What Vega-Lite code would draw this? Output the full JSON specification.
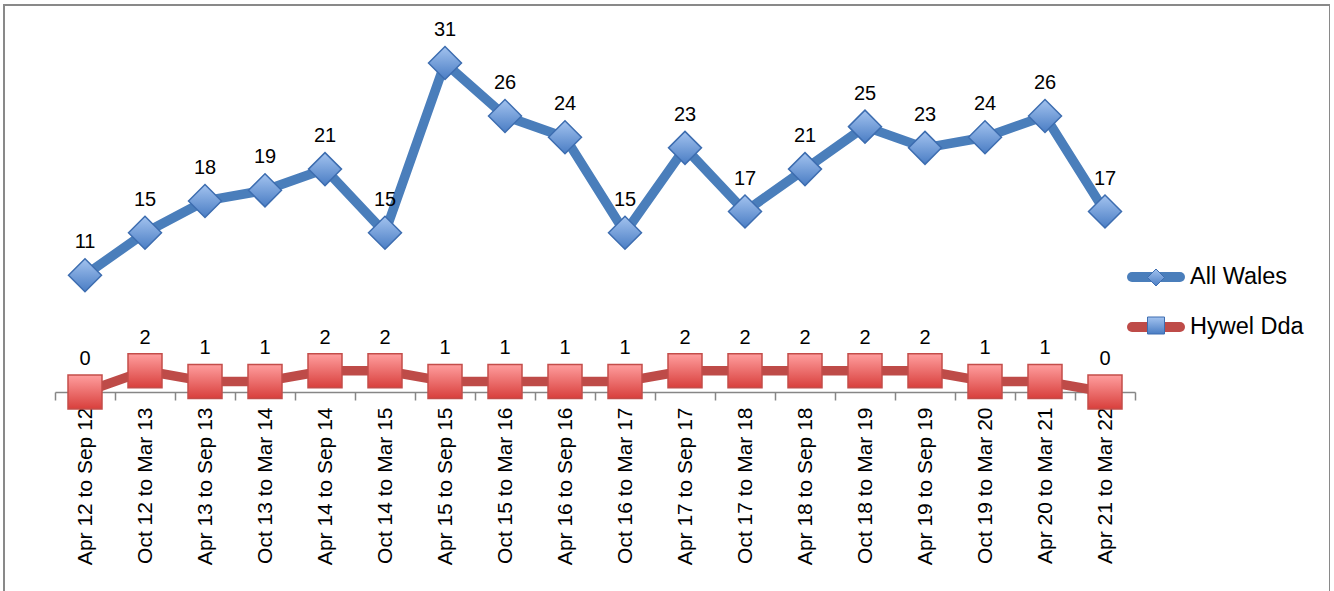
{
  "$schema": "https://vega.github.io/schema/vega-lite/v6.json",
  "width": 1326,
  "height": 600,
  "autosize": {"type": "none"},
  "padding": {"left": 4, "top": 5, "right": 0, "bottom": 0},
  "background": "white",
  "config": {
    "view": {"stroke": "#898989", "strokeWidth": 2},
    "font": "Liberation Sans"
  },
  "data": {
    "values": [
      {"period": "Apr 12 to Sep 12", "series": "All Wales", "value": 11},
      {"period": "Oct 12 to Mar 13", "series": "All Wales", "value": 15},
      {"period": "Apr 13 to Sep 13", "series": "All Wales", "value": 18},
      {"period": "Oct 13 to Mar 14", "series": "All Wales", "value": 19},
      {"period": "Apr 14 to Sep 14", "series": "All Wales", "value": 21},
      {"period": "Oct 14 to Mar 15", "series": "All Wales", "value": 15},
      {"period": "Apr 15 to Sep 15", "series": "All Wales", "value": 31},
      {"period": "Oct 15 to Mar 16", "series": "All Wales", "value": 26},
      {"period": "Apr 16 to Sep 16", "series": "All Wales", "value": 24},
      {"period": "Oct 16 to Mar 17", "series": "All Wales", "value": 15},
      {"period": "Apr 17 to Sep 17", "series": "All Wales", "value": 23},
      {"period": "Oct 17 to Mar 18", "series": "All Wales", "value": 17},
      {"period": "Apr 18 to Sep 18", "series": "All Wales", "value": 21},
      {"period": "Oct 18 to Mar 19", "series": "All Wales", "value": 25},
      {"period": "Apr 19 to Sep 19", "series": "All Wales", "value": 23},
      {"period": "Oct 19 to Mar 20", "series": "All Wales", "value": 24},
      {"period": "Apr 20 to Mar 21", "series": "All Wales", "value": 26},
      {"period": "Apr 21 to Mar 22", "series": "All Wales", "value": 17},
      {"period": "Apr 12 to Sep 12", "series": "Hywel Dda", "value": 0},
      {"period": "Oct 12 to Mar 13", "series": "Hywel Dda", "value": 2},
      {"period": "Apr 13 to Sep 13", "series": "Hywel Dda", "value": 1},
      {"period": "Oct 13 to Mar 14", "series": "Hywel Dda", "value": 1},
      {"period": "Apr 14 to Sep 14", "series": "Hywel Dda", "value": 2},
      {"period": "Oct 14 to Mar 15", "series": "Hywel Dda", "value": 2},
      {"period": "Apr 15 to Sep 15", "series": "Hywel Dda", "value": 1},
      {"period": "Oct 15 to Mar 16", "series": "Hywel Dda", "value": 1},
      {"period": "Apr 16 to Sep 16", "series": "Hywel Dda", "value": 1},
      {"period": "Oct 16 to Mar 17", "series": "Hywel Dda", "value": 1},
      {"period": "Apr 17 to Sep 17", "series": "Hywel Dda", "value": 2},
      {"period": "Oct 17 to Mar 18", "series": "Hywel Dda", "value": 2},
      {"period": "Apr 18 to Sep 18", "series": "Hywel Dda", "value": 2},
      {"period": "Oct 18 to Mar 19", "series": "Hywel Dda", "value": 2},
      {"period": "Apr 19 to Sep 19", "series": "Hywel Dda", "value": 2},
      {"period": "Oct 19 to Mar 20", "series": "Hywel Dda", "value": 1},
      {"period": "Apr 20 to Mar 21", "series": "Hywel Dda", "value": 1},
      {"period": "Apr 21 to Mar 22", "series": "Hywel Dda", "value": 0}
    ]
  },
  "encoding": {
    "x": {
      "field": "period",
      "type": "nominal",
      "sort": null,
      "title": null,
      "scale": {"type": "band", "range": [51, 1131], "paddingInner": 0, "paddingOuter": 0},
      "axis": {
        "offset": -213,
        "tickBand": "extent",
        "labelAngle": 270,
        "labelFontSize": 21,
        "labelFont": "Liberation Sans",
        "labelColor": "#000000",
        "labelPadding": 7,
        "tickSize": 8,
        "tickColor": "#868686",
        "tickWidth": 1.5,
        "domainColor": "#868686",
        "domainWidth": 1.5,
        "grid": false
      }
    },
    "y": {
      "field": "value",
      "type": "quantitative",
      "title": null,
      "scale": {"domain": [0, 35], "range": [387, 15.5], "nice": false, "zero": false},
      "axis": null
    }
  },
  "layer": [
    {
      "mark": {"type": "line", "strokeWidth": 9.5, "strokeJoin": "round", "strokeCap": "round"},
      "encoding": {
        "color": {
          "field": "series",
          "type": "nominal",
          "scale": {"range": ["#4a7ebb", "#be4b48"]},
          "legend": {
            "title": null,
            "orient": "none",
            "legendX": 1135,
            "legendY": 255,
            "symbolType": "M-2,0H2",
            "symbolSize": 576,
            "symbolStrokeWidth": 10,
            "labelFontSize": 23.5,
            "labelFont": "Liberation Sans",
            "labelColor": "#000000",
            "labelOffset": 17,
            "rowPadding": 10,
            "encode": {"symbols": {"update": {"strokeCap": {"value": "round"}}}}
          }
        }
      }
    },
    {
      "transform": [{"filter": "datum.series == 'All Wales'"}],
      "mark": {
        "type": "point",
        "filled": true,
        "size": 1089,
        "opacity": 1,
        "fill": {"gradient": "linear", "x1": 0, "y1": 0, "x2": 0, "y2": 1, "stops": [{"offset": 0, "color": "#a3c3ef"}, {"offset": 1, "color": "#4a7dc4"}]},
        "stroke": "#3d6db0",
        "strokeWidth": 1.5
      },
      "encoding": {
        "shape": {
          "field": "series",
          "type": "nominal",
          "scale": {"domain": ["All Wales", "Hywel Dda"], "range": ["diamond", "square"]},
          "legend": {
            "title": null,
            "orient": "none",
            "legendX": 1143,
            "legendY": 263.5,
            "symbolSize": 289,
            "symbolStrokeWidth": 1,
            "labelFontSize": 1,
            "labelExpr": "''",
            "labelOpacity": 0,
            "labelOffset": 0,
            "rowPadding": 26,
            "encode": {
              "symbols": {
                "update": {
                  "fill": {"condition": {"test": "datum.value == 'All Wales'", "value": "#7aa6e3"}, "value": "#f08684"},
                  "stroke": {"condition": {"test": "datum.value == 'All Wales'", "value": "#3d6db0"}, "value": "#c0504d"},
                  "strokeWidth": {"value": 1},
                  "opacity": {"value": 1}
                }
              }
            }
          }
        }
      }
    },
    {
      "transform": [{"filter": "datum.series == 'Hywel Dda'"}],
      "mark": {
        "type": "point",
        "filled": true,
        "size": 1156,
        "opacity": 1,
        "fill": {"gradient": "linear", "x1": 0, "y1": 0, "x2": 0, "y2": 1, "stops": [{"offset": 0, "color": "#ff9e9e"}, {"offset": 1, "color": "#d83f3c"}]},
        "stroke": "#c34d4a",
        "strokeWidth": 1.5
      },
      "encoding": {
        "shape": {"field": "series", "type": "nominal"}
      }
    },
    {
      "mark": {"type": "text", "fontSize": 20, "font": "Liberation Sans", "color": "#000000", "baseline": "alphabetic", "dy": -27},
      "encoding": {
        "text": {"field": "value", "type": "quantitative"}
      }
    }
  ]
}
